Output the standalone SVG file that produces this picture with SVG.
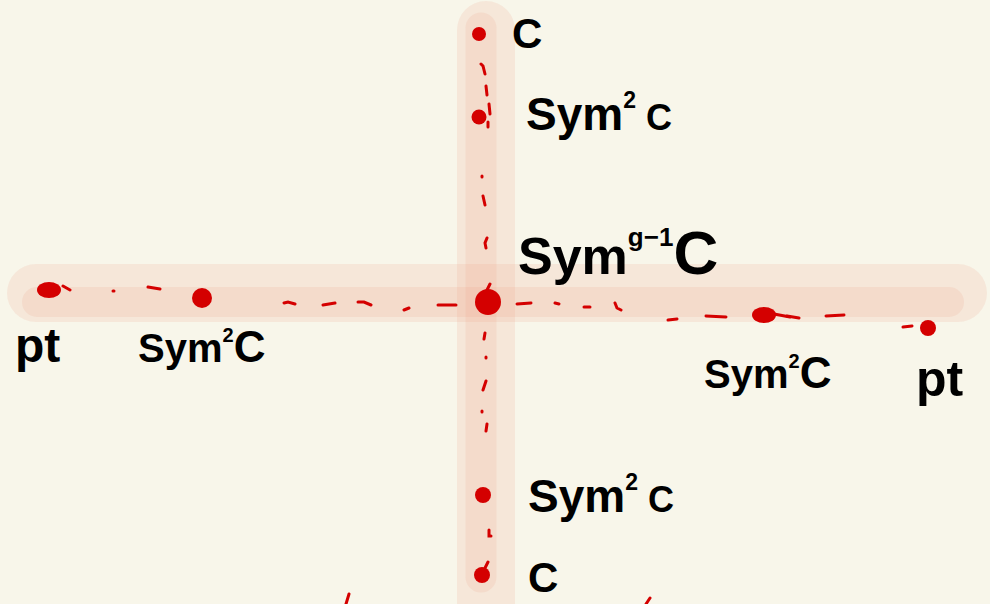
<svg xmlns="http://www.w3.org/2000/svg" width="990" height="604" viewBox="0 0 990 604">
<style>
.band{fill:none;stroke:#ec9f8a;stroke-linecap:round;stroke-opacity:0.17}
.dash{fill:none;stroke:#d40000;stroke-width:3;stroke-linecap:round}
.pt{fill:#d40000}
.lbl{font-family:"Liberation Sans","DejaVu Sans",sans-serif;fill:#000;font-weight:bold}
.sup{font-size:0.5em}
</style>
<rect width="990" height="604" fill="#f8f6ea"/>
<g id="bands">
<line class="band" x1="486" y1="30" x2="486" y2="640" stroke-width="58"/>
<line class="band" x1="481" y1="28" x2="481" y2="577" stroke-width="31"/>
<line class="band" x1="36" y1="293" x2="958" y2="293" stroke-width="58"/>
<line class="band" x1="37" y1="302" x2="949" y2="302" stroke-width="30"/>
</g>
<g id="connectors">
<path class="dash" d="M63 286 L70 290 M113 291 L114 291 M148 287 L160 289 M284 303 L288 302 L295 304 M323 305 L335 303 M358 302 L364 302 L371 305 M404 310 L409 308 M438 305 L456 305"/>
<path class="dash" d="M517 304 L531 303 M555 303 L559 304 M584 307 L590 307 M615 303 L617 308 L621 310 M668 320 L677 319 M706 316 L726 317 M787 316 L799 318 M826 316 L844 315 M903 327 L912 326"/>
<path class="dash" d="M481 64 L483 66 L485 74 M486 86 L487 95 M489 104 L490 114 M488 122 L488 127 M482 176 L482 177 M483 196 L485 205 M487 238 L485 243 L486 248 M490 284 L487 290"/>
<path class="dash" d="M485 333 L484 339 M486 357 L486 358 M486 381 L483 390 M482 411 L482 412 M487 424 L486 431 M489 530 L489 536 L491 536 M485 568 L488 562"/>
<path class="dash" d="M346 604 L349 594 M646 604 L650 598" stroke-width="7"/>
</g>
<g id="n-top-c"><circle class="pt" cx="479" cy="34" r="7"/><text class="lbl" x="512" y="48" font-size="42">C</text></g>
<g id="n-top-sym2"><circle class="pt" cx="479" cy="117" r="7.5"/><text class="lbl" x="526" y="130" font-size="46">Sym<tspan class="sup" dy="-22">2</tspan><tspan dy="22" font-size="36"> C</tspan></text></g>
<g id="n-center"><circle class="pt" cx="488" cy="302" r="13"/><text class="lbl" x="518" y="274" font-size="52">Sym<tspan class="sup" dy="-28">g−1</tspan><tspan dy="28" font-size="62">C</tspan></text></g>
<g id="n-left-pt"><ellipse class="pt" cx="49" cy="290" rx="12" ry="8"/><text class="lbl" x="15" y="362" font-size="48">pt</text></g>
<g id="n-left-sym2"><circle class="pt" cx="202" cy="298" r="10"/><text class="lbl" x="138" y="362" font-size="40">Sym<tspan class="sup" dy="-20">2</tspan><tspan dy="20" font-size="44">C</tspan></text></g>
<g id="n-right-sym2"><ellipse class="pt" cx="764" cy="315" rx="12" ry="8"/><path class="dash" d="M774 314 L790 317" stroke-width="5"/><text class="lbl" x="704" y="388" font-size="40">Sym<tspan class="sup" dy="-20">2</tspan><tspan dy="20" font-size="44">C</tspan></text></g>
<g id="n-right-pt"><circle class="pt" cx="928" cy="328" r="8"/><text class="lbl" x="916" y="396" font-size="50">pt</text></g>
<g id="n-low-sym2"><circle class="pt" cx="483" cy="495" r="8"/><text class="lbl" x="528" y="512" font-size="46">Sym<tspan class="sup" dy="-22">2</tspan><tspan dy="22" font-size="36"> C</tspan></text></g>
<g id="n-bottom-c"><circle class="pt" cx="482" cy="575" r="8"/><text class="lbl" x="528" y="592" font-size="42">C</text></g>
</svg>
